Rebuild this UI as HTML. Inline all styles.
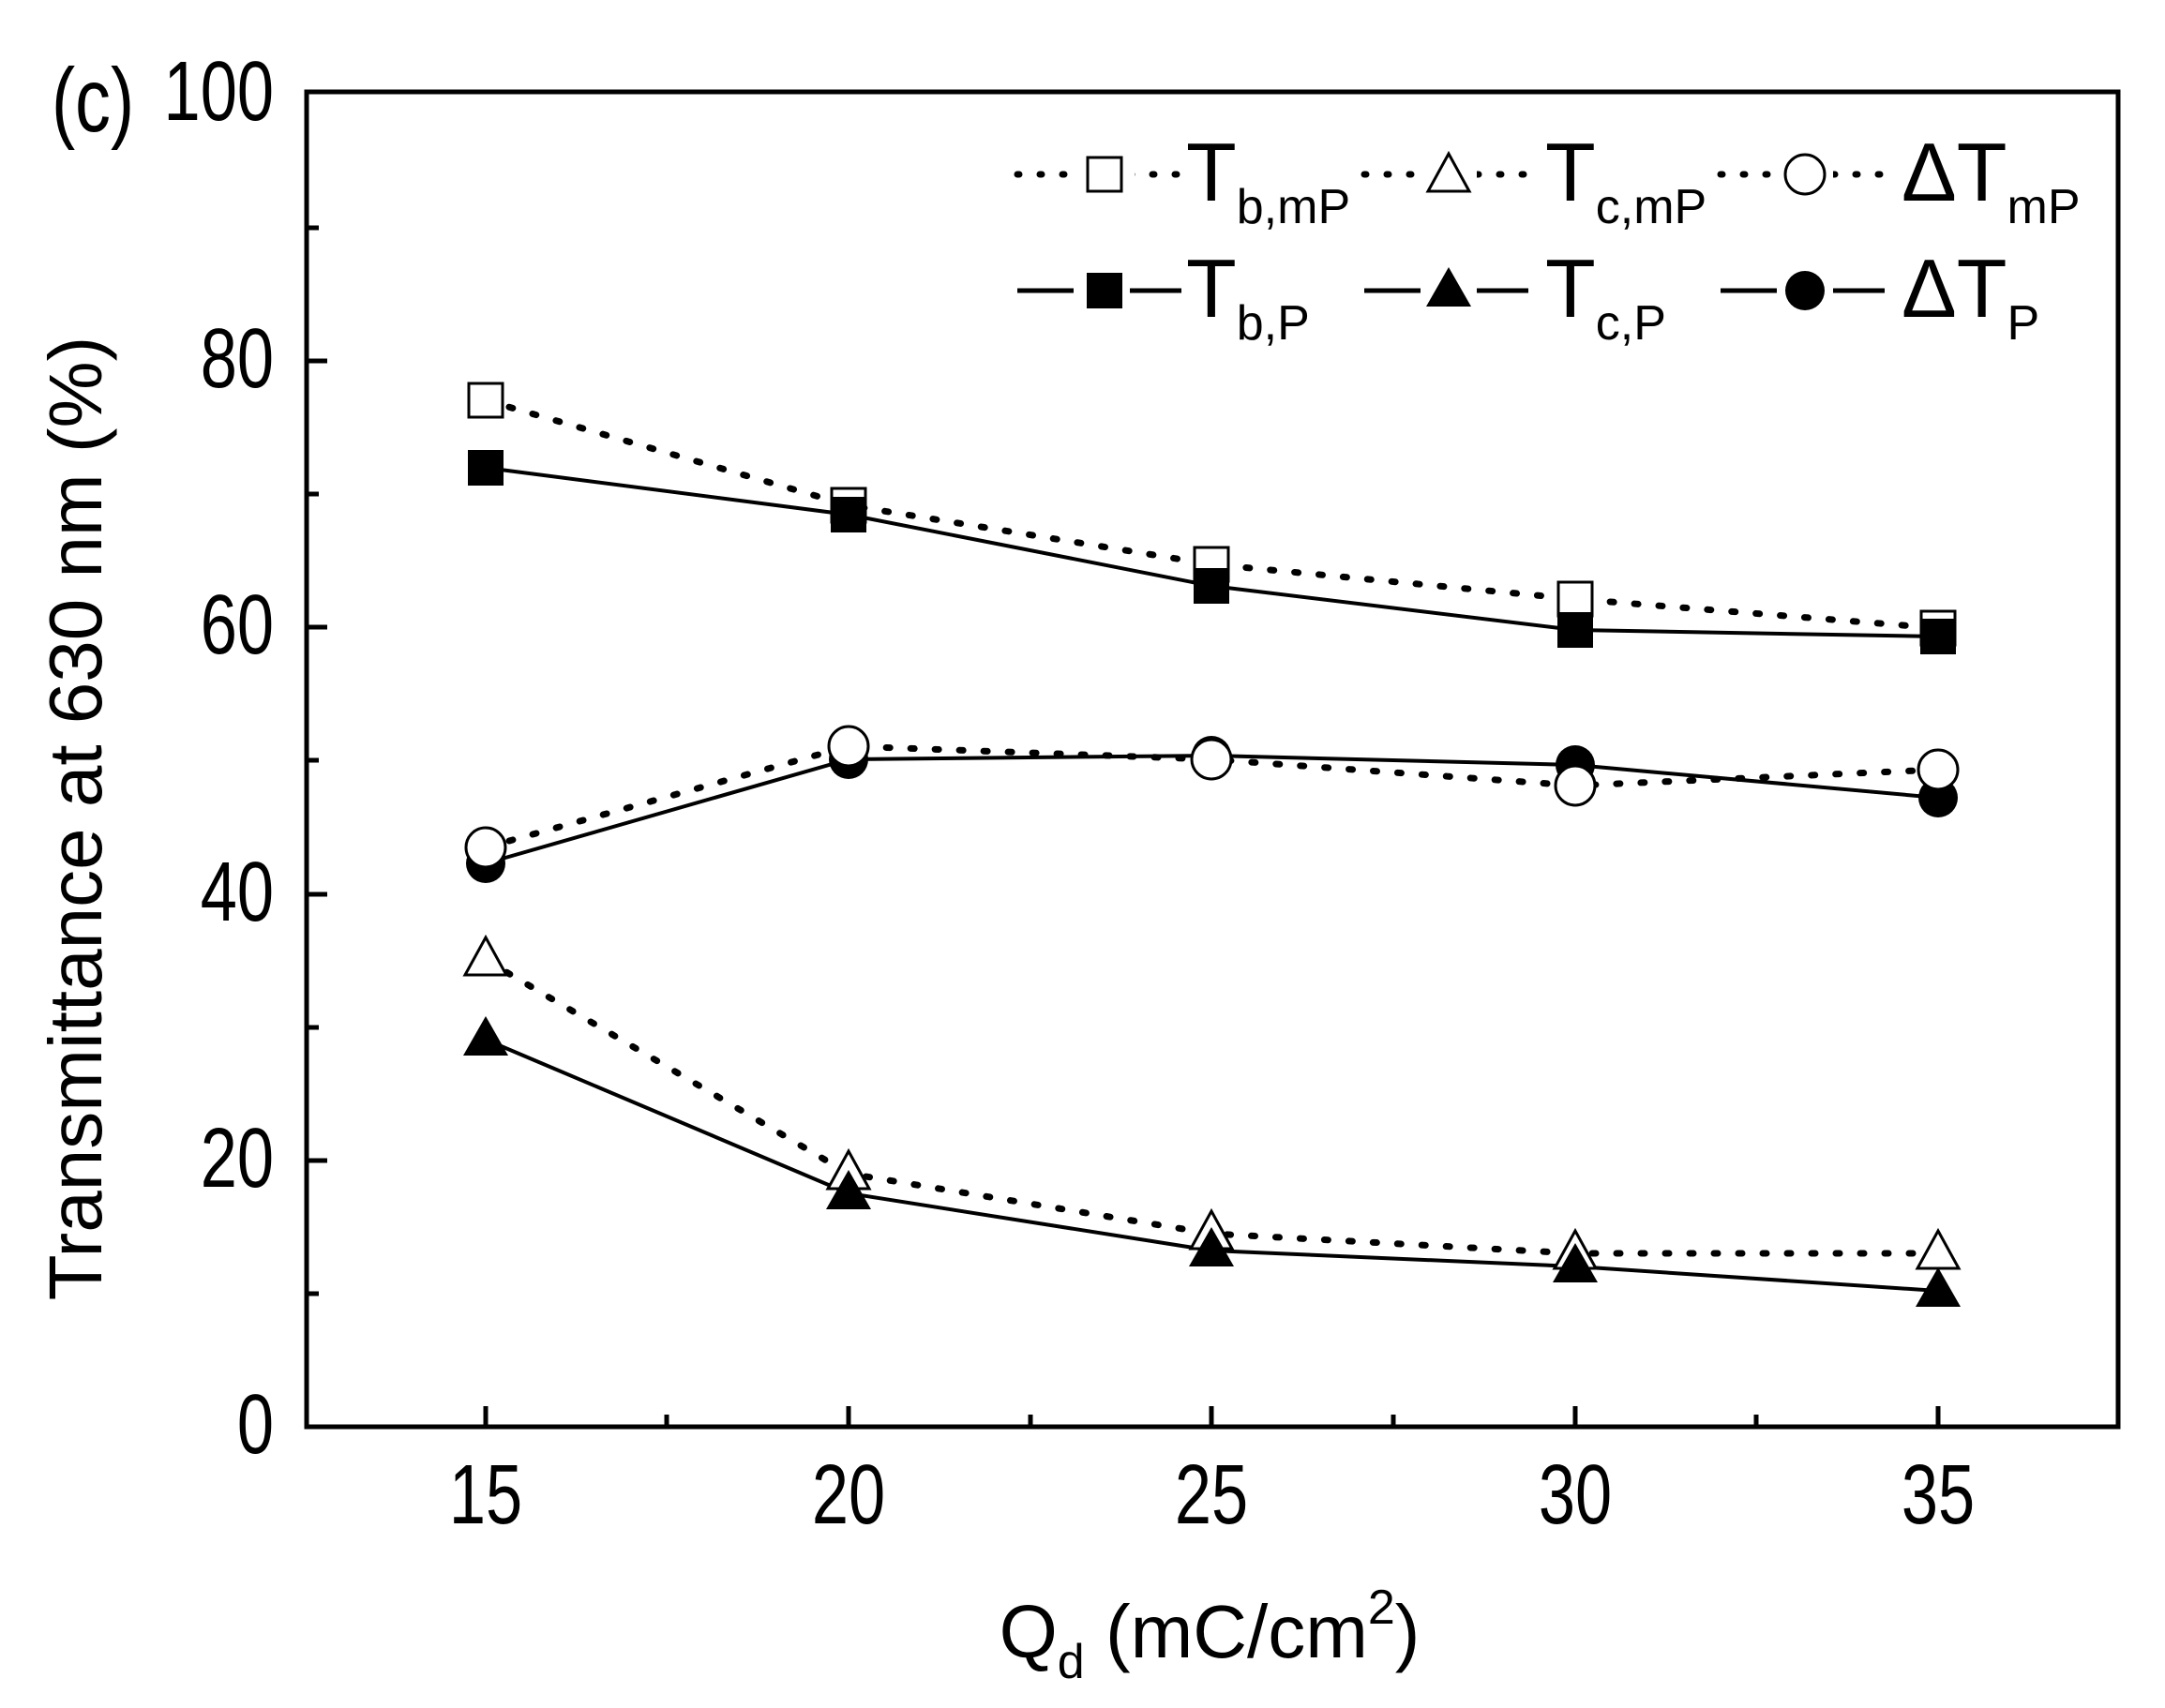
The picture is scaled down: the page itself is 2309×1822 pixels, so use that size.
<!DOCTYPE html>
<html><head><style>body{margin:0;background:#fff}svg{display:block}</style></head><body>
<svg width="2309" height="1822" viewBox="0 0 2309 1822" xmlns="http://www.w3.org/2000/svg" font-family="Liberation Sans, Arial, sans-serif">
<defs>
<g id="sqO"><rect x="-18" y="-18" width="36" height="36" fill="#fff" stroke="#000" stroke-width="3"/></g>
<g id="sqF"><rect x="-19" y="-19" width="38" height="38" fill="#000"/></g>
<g id="trO"><polygon points="0,-24 22,16 -22,16" fill="#fff" stroke="#000" stroke-width="3"/></g>
<g id="trF"><polygon points="0,-25 24,17 -24,17" fill="#000"/></g>
<g id="ciO"><circle r="21" fill="#fff" stroke="#000" stroke-width="3"/></g>
<g id="ciF"><circle r="21" fill="#000"/></g>
</defs>
<text transform="translate(55,140) scale(0.9,1.15)" font-size="84">(c)</text>
<g stroke="#000" stroke-width="5" fill="none">
<rect x="327" y="98" width="1932" height="1424"/>
<path d="M327,1238h22M327,954h22M327,669h22M327,385h22M327,1380h13M327,1096h13M327,811h13M327,527h13M327,243h13"/>
<path d="M518,1522v-22M905,1522v-22M1292,1522v-22M1680,1522v-22M2067,1522v-22M711,1522v-13M1099,1522v-13M1486,1522v-13M1873,1522v-13"/>
</g>
<g font-size="80" text-anchor="end">
<text transform="translate(292,1550) scale(0.88,1.12)">0</text><text transform="translate(292,1266) scale(0.88,1.12)">20</text><text transform="translate(292,982) scale(0.88,1.12)">40</text><text transform="translate(292,697) scale(0.88,1.12)">60</text><text transform="translate(292,413) scale(0.88,1.12)">80</text><text transform="translate(292,128) scale(0.88,1.12)">100</text>
</g>
<g font-size="80" text-anchor="middle">
<text transform="translate(518,1625) scale(0.88,1.12)">15</text><text transform="translate(905,1625) scale(0.88,1.12)">20</text><text transform="translate(1292,1625) scale(0.88,1.12)">25</text><text transform="translate(1680,1625) scale(0.88,1.12)">30</text><text transform="translate(2067,1625) scale(0.88,1.12)">35</text>
<text x="1290" y="1768">Q<tspan font-size="52" dy="22">d</tspan><tspan dy="-22"> (mC/cm</tspan><tspan font-size="52" dy="-36">2</tspan><tspan dy="36">)</tspan></text>
</g>
<text transform="translate(108,873) rotate(-90)" font-size="80" text-anchor="middle">Transmittance at 630 nm (%)</text>
<g fill="none" stroke="#000" stroke-width="4">
<polyline stroke-dasharray="4,22" stroke-linecap="round" stroke-width="7" points="518,427 905,539 1292,602 1680,639 2067,670"/>
<polyline points="518,499 905,549 1292,625 1680,672 2067,679"/>
<polyline stroke-dasharray="4,22" stroke-linecap="round" stroke-width="7" points="518,904 905,796 1292,810 1680,838 2067,821"/>
<polyline points="518,921 905,810 1292,806 1680,816 2067,851"/>
<polyline stroke-dasharray="4,22" stroke-linecap="round" stroke-width="7" points="518,1024 905,1252 1292,1316 1680,1337 2067,1337"/>
<polyline points="518,1109 905,1273 1292,1334 1680,1351 2067,1377"/>
</g>
<use href="#sqO" x="518" y="427"/><use href="#sqO" x="905" y="539"/><use href="#sqO" x="1292" y="602"/><use href="#sqO" x="1680" y="639"/><use href="#sqO" x="2067" y="670"/>
<use href="#sqF" x="518" y="499"/><use href="#sqF" x="905" y="549"/><use href="#sqF" x="1292" y="625"/><use href="#sqF" x="1680" y="672"/><use href="#sqF" x="2067" y="679"/>
<use href="#ciF" x="518" y="921"/><use href="#ciF" x="905" y="810"/><use href="#ciF" x="1292" y="806"/><use href="#ciF" x="1680" y="816"/><use href="#ciF" x="2067" y="851"/>
<use href="#ciO" x="518" y="904"/><use href="#ciO" x="905" y="796"/><use href="#ciO" x="1292" y="810"/><use href="#ciO" x="1680" y="838"/><use href="#ciO" x="2067" y="821"/>
<use href="#trO" x="518" y="1024"/><use href="#trO" x="905" y="1252"/><use href="#trO" x="1292" y="1316"/><use href="#trO" x="1680" y="1337"/><use href="#trO" x="2067" y="1337"/>
<use href="#trF" x="518" y="1109"/><use href="#trF" x="905" y="1273"/><use href="#trF" x="1292" y="1334"/><use href="#trF" x="1680" y="1351"/><use href="#trF" x="2067" y="1377"/>
<g fill="none" stroke="#000">
<path stroke-width="7" stroke-linecap="round" stroke-dasharray="2,22" d="M1085,186h170M1455,186h170M1835,186h170"/>
<path stroke-width="5" d="M1085,310h60M1205,310h55M1455,310h60M1575,310h55M1835,310h60M1955,310h55"/>
</g>
<rect x="1150" y="160" width="60" height="52" fill="#fff"/><rect x="1515" y="160" width="60" height="52" fill="#fff"/><rect x="1895" y="160" width="60" height="52" fill="#fff"/>
<use href="#sqO" x="1178" y="186"/><use href="#trO" x="1545" y="188"/><use href="#ciO" x="1925" y="186"/>
<use href="#sqF" x="1178" y="310"/><use href="#trF" x="1545" y="310"/><use href="#ciF" x="1925" y="310"/>
<g font-size="88">
<text x="1265" y="214">T<tspan font-size="52" dy="24">b,mP</tspan></text>
<text x="1648" y="214">T<tspan font-size="52" dy="24">c,mP</tspan></text>
<text x="2028" y="214">ΔT<tspan font-size="52" dy="24">mP</tspan></text>
<text x="1265" y="338">T<tspan font-size="52" dy="24">b,P</tspan></text>
<text x="1648" y="338">T<tspan font-size="52" dy="24">c,P</tspan></text>
<text x="2028" y="338">ΔT<tspan font-size="52" dy="24">P</tspan></text>
</g>
</svg>
</body></html>
